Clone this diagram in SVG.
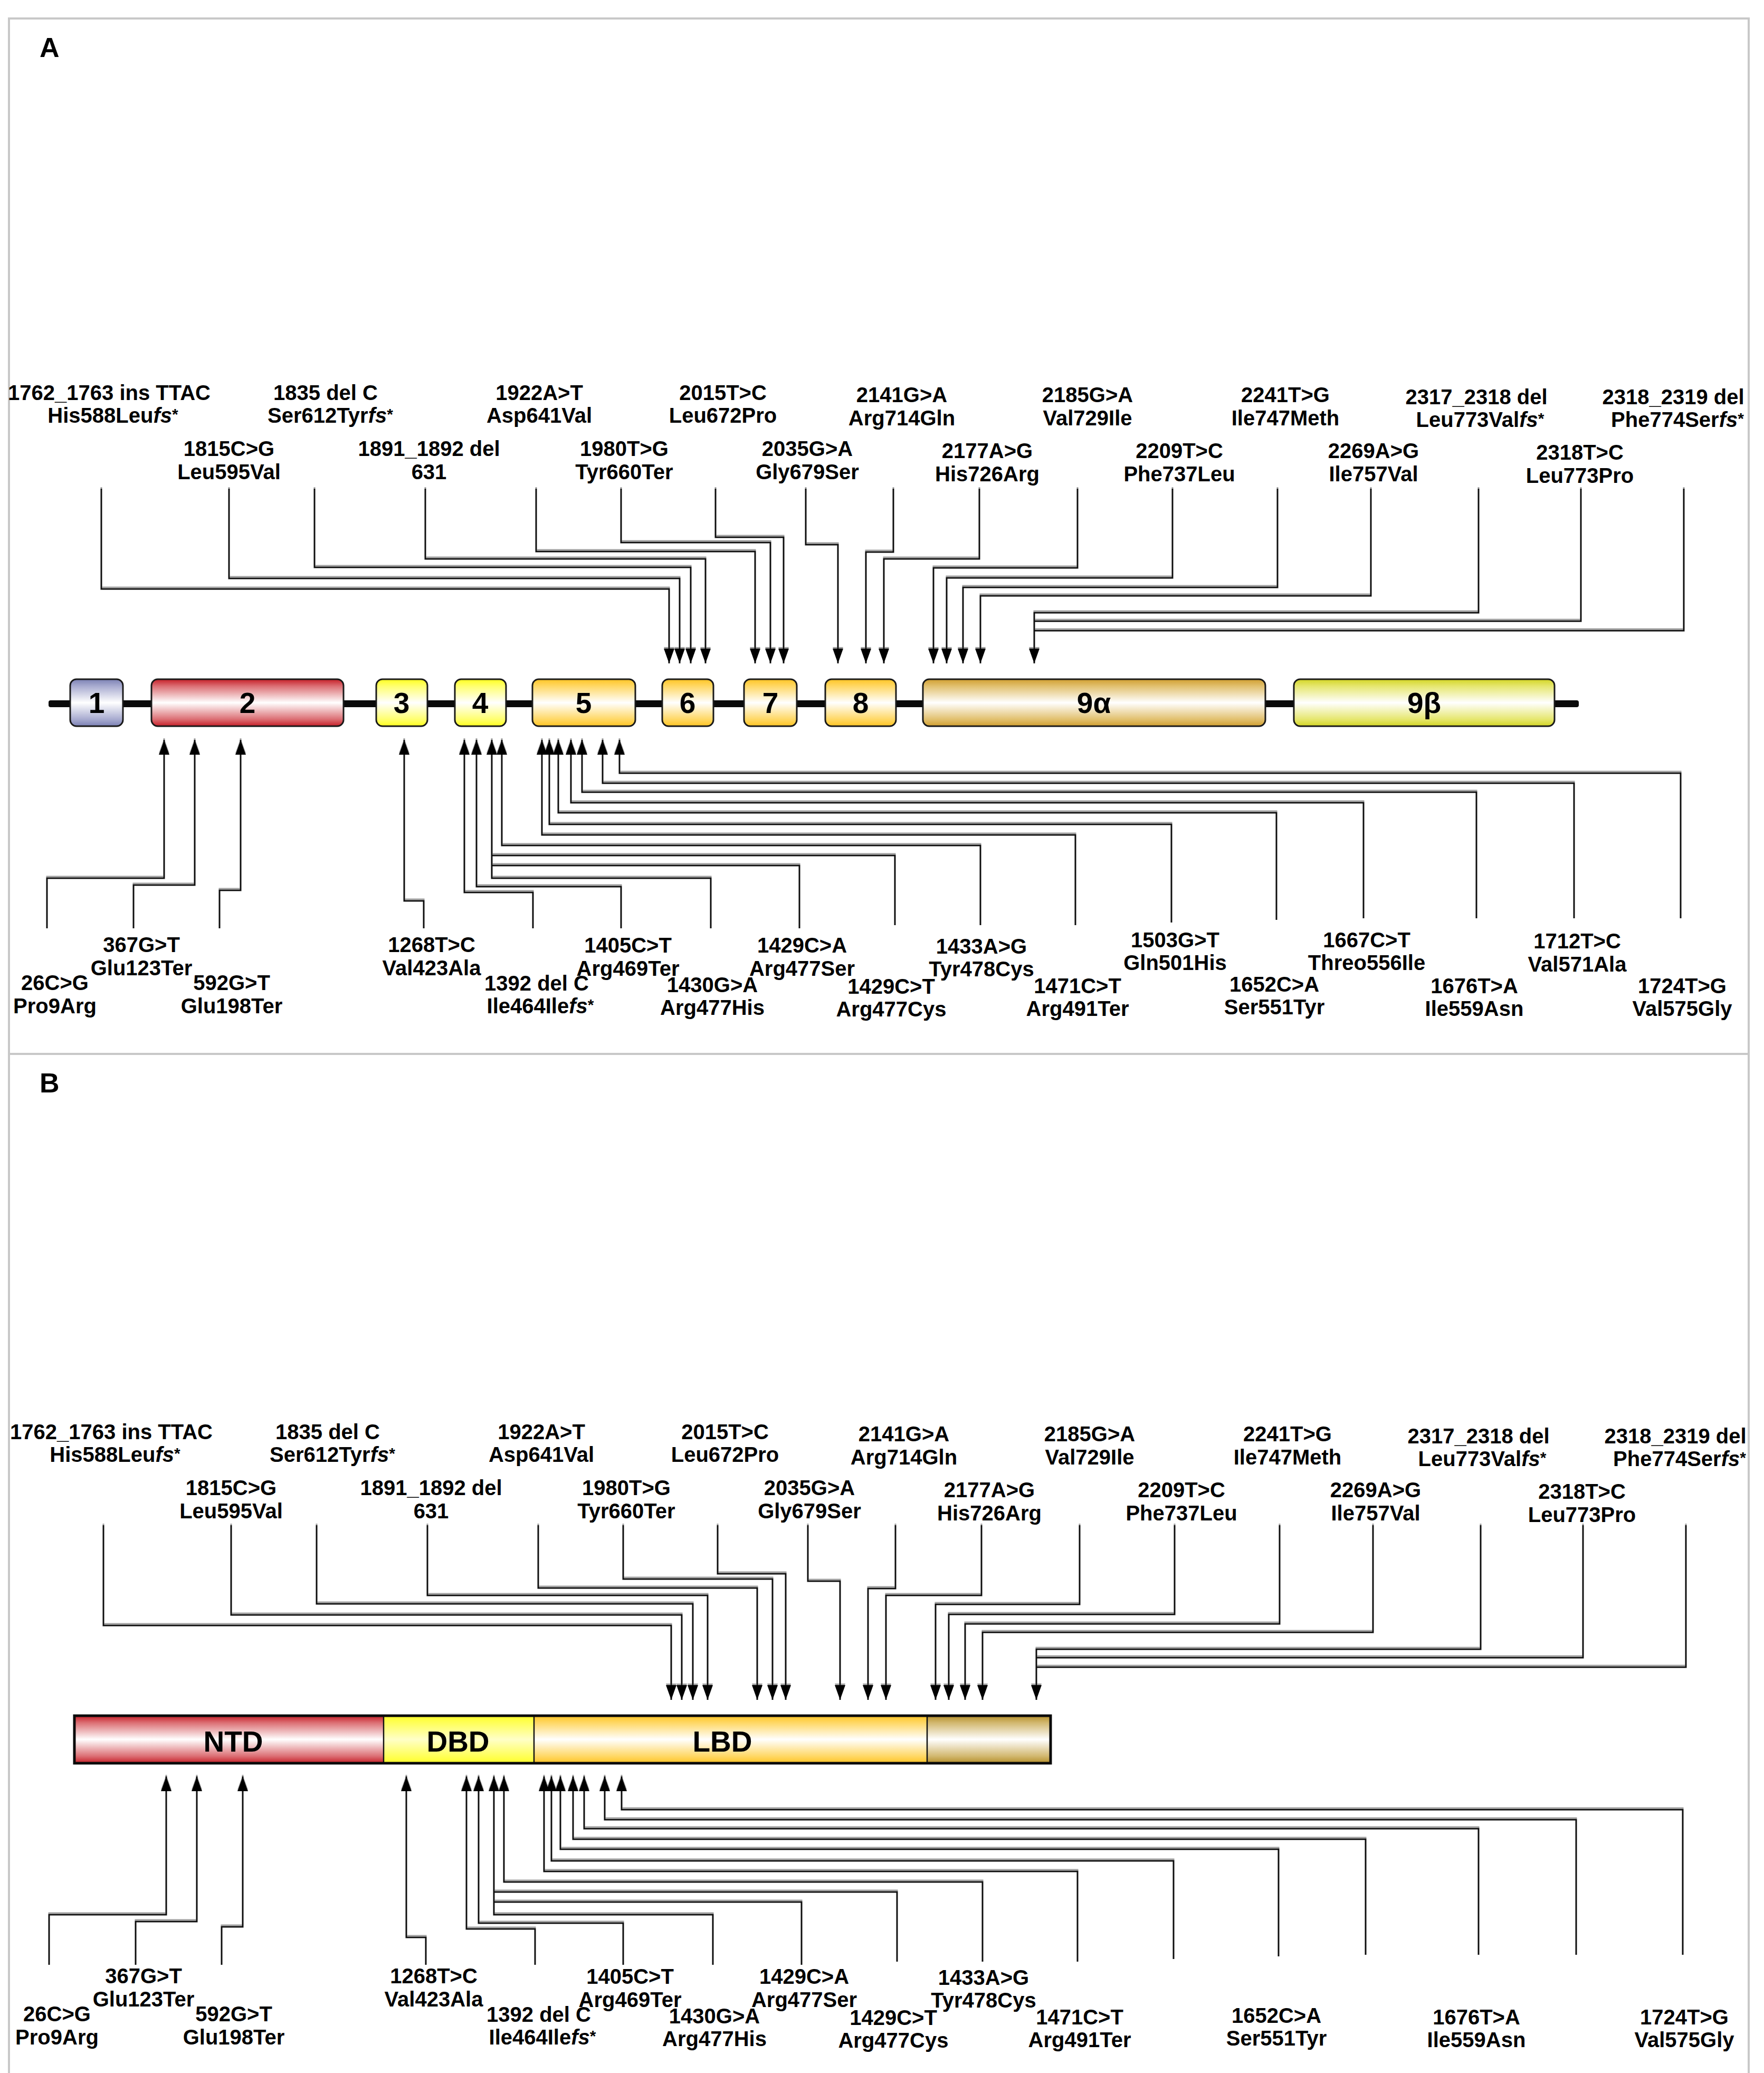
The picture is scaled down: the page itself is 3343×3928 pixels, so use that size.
<svg xmlns="http://www.w3.org/2000/svg" width="3343" height="3928" viewBox="0 0 3343 3928">
<style>
.lb{font-family:"Liberation Sans",Arial,sans-serif;font-size:40px;font-weight:bold;text-anchor:middle;fill:#000}
.ex{font-family:"Liberation Sans",Arial,sans-serif;font-size:55px;font-weight:bold;text-anchor:middle;fill:#000}
.pn{font-family:"Liberation Sans",Arial,sans-serif;font-size:52px;font-weight:bold;fill:#000}
.cn path{fill:none;stroke:#111;stroke-width:3}
.ar{marker-end:url(#ah)}
.box{stroke:#1a1a1a;stroke-width:3}
.fr{fill:none;stroke:#c8c8c8;stroke-width:4}
.it{font-style:italic}
.sup{font-size:30px}
</style>
<defs>
<marker id="ah" markerUnits="userSpaceOnUse" viewBox="0 0 28 20" markerWidth="28" markerHeight="20" refX="28" refY="10" orient="auto">
<path d="M0,0L28,10L0,20z" fill="#000"/>
</marker>
<filter id="sh" filterUnits="userSpaceOnUse" x="0" y="0" width="3343" height="3928">
<feOffset in="SourceAlpha" dx="0" dy="-3" result="o"/>
<feFlood flood-color="#a0a0a0"/>
<feComposite in2="o" operator="in" result="s"/>
<feMerge><feMergeNode in="s"/><feMergeNode in="SourceGraphic"/></feMerge>
</filter>
<linearGradient id="gBlue" x1="0" y1="0" x2="0" y2="1"><stop offset="0" stop-color="#7c81b4"/><stop offset="0.15" stop-color="#a9acd0"/><stop offset="0.5" stop-color="#ffffff"/><stop offset="0.85" stop-color="#a9acd0"/><stop offset="1" stop-color="#7c81b4"/></linearGradient>
<linearGradient id="gRed" x1="0" y1="0" x2="0" y2="1"><stop offset="0" stop-color="#c61f28"/><stop offset="0.15" stop-color="#dc7075"/><stop offset="0.5" stop-color="#ffffff"/><stop offset="0.85" stop-color="#dc7075"/><stop offset="1" stop-color="#c61f28"/></linearGradient>
<linearGradient id="gYel" x1="0" y1="0" x2="0" y2="1"><stop offset="0" stop-color="#ffff1e"/><stop offset="0.15" stop-color="#ffff70"/><stop offset="0.5" stop-color="#ffffff"/><stop offset="0.85" stop-color="#ffff70"/><stop offset="1" stop-color="#ffff1e"/></linearGradient>
<linearGradient id="gGold" x1="0" y1="0" x2="0" y2="1"><stop offset="0" stop-color="#ffc424"/><stop offset="0.15" stop-color="#ffd866"/><stop offset="0.5" stop-color="#ffffff"/><stop offset="0.85" stop-color="#ffd866"/><stop offset="1" stop-color="#ffc424"/></linearGradient>
<linearGradient id="gTan" x1="0" y1="0" x2="0" y2="1"><stop offset="0" stop-color="#d09e30"/><stop offset="0.15" stop-color="#e2c170"/><stop offset="0.5" stop-color="#ffffff"/><stop offset="0.85" stop-color="#e2c170"/><stop offset="1" stop-color="#d09e30"/></linearGradient>
<linearGradient id="gLime" x1="0" y1="0" x2="0" y2="1"><stop offset="0" stop-color="#d3d524"/><stop offset="0.15" stop-color="#e6e770"/><stop offset="0.5" stop-color="#ffffff"/><stop offset="0.85" stop-color="#e6e770"/><stop offset="1" stop-color="#d3d524"/></linearGradient>
<linearGradient id="gDbd" x1="0" y1="0" x2="0" y2="1"><stop offset="0" stop-color="#ffff28"/><stop offset="0.5" stop-color="#ffffc8"/><stop offset="1" stop-color="#ffff28"/></linearGradient>
<linearGradient id="gBrn" x1="0" y1="0" x2="0" y2="1"><stop offset="0" stop-color="#b58f2a"/><stop offset="0.15" stop-color="#d2b870"/><stop offset="0.5" stop-color="#ffffff"/><stop offset="0.85" stop-color="#d2b870"/><stop offset="1" stop-color="#b58f2a"/></linearGradient>
</defs>
<rect width="3343" height="3928" fill="#fff"/>
<g id="frames">
<rect class="fr" x="17" y="35" width="3297" height="1962"/>
<rect class="fr" x="17" y="1997" width="3297" height="1960"/>
<text class="pn" x="75" y="108">A</text>
<text class="pn" x="75" y="2070">B</text>
</g>

<g id="gene-A">
<rect x="92" y="1327" width="2900" height="13" rx="4" fill="#0a0a0a"/>
<g id="exon1"><rect class="box" x="133" y="1287" width="100" height="89" rx="12" fill="url(#gBlue)"/><text class="ex" x="183" y="1351">1</text></g>
<g id="exon2"><rect class="box" x="287" y="1287" width="364" height="89" rx="12" fill="url(#gRed)"/><text class="ex" x="469" y="1351">2</text></g>
<g id="exon3"><rect class="box" x="713" y="1287" width="97" height="89" rx="12" fill="url(#gYel)"/><text class="ex" x="761" y="1351">3</text></g>
<g id="exon4"><rect class="box" x="862" y="1287" width="97" height="89" rx="12" fill="url(#gYel)"/><text class="ex" x="910" y="1351">4</text></g>
<g id="exon5"><rect class="box" x="1009" y="1287" width="195" height="89" rx="12" fill="url(#gGold)"/><text class="ex" x="1106" y="1351">5</text></g>
<g id="exon6"><rect class="box" x="1255" y="1287" width="97" height="89" rx="12" fill="url(#gGold)"/><text class="ex" x="1303" y="1351">6</text></g>
<g id="exon7"><rect class="box" x="1410" y="1287" width="100" height="89" rx="12" fill="url(#gGold)"/><text class="ex" x="1460" y="1351">7</text></g>
<g id="exon8"><rect class="box" x="1564" y="1287" width="134" height="89" rx="12" fill="url(#gGold)"/><text class="ex" x="1631" y="1351">8</text></g>
<g id="exon9a"><rect class="box" x="1749" y="1287" width="649" height="89" rx="12" fill="url(#gTan)"/><text class="ex" x="2073" y="1351">9α</text></g>
<g id="exon9b"><rect class="box" x="2452" y="1287" width="494" height="89" rx="12" fill="url(#gLime)"/><text class="ex" x="2699" y="1351">9β</text></g>
</g>

<g id="connectors-A" class="cn" filter="url(#sh)">
<path class="ar" d="M192,926V1116H1268V1257"/>
<path class="ar" d="M434,926V1096H1288V1257"/>
<path class="ar" d="M596,926V1075H1309V1257"/>
<path class="ar" d="M806,926V1059H1337V1257"/>
<path class="ar" d="M1016,926V1045H1431V1257"/>
<path class="ar" d="M1177,926V1028H1460V1257"/>
<path class="ar" d="M1356,926V1018H1485V1257"/>
<path class="ar" d="M1527,926V1032H1588V1257"/>
<path class="ar" d="M1693,926V1046H1641V1257"/>
<path class="ar" d="M1856,926V1059H1675V1257"/>
<path class="ar" d="M2042,926V1076H1769V1257"/>
<path class="ar" d="M2222,926V1095H1794V1257"/>
<path class="ar" d="M2421,926V1113H1825V1257"/>
<path class="ar" d="M2598,926V1129H1858V1257"/>
<path class="ar" d="M2802,926V1161H1960V1257"/>
<path d="M2996,926V1177H1960"/>
<path d="M3191,926V1195H1960"/>
<path class="ar" d="M89,1759V1664H311V1402"/>
<path class="ar" d="M253,1759V1677H369V1402"/>
<path class="ar" d="M416,1759V1687H456V1402"/>
<path class="ar" d="M803,1759V1707H766V1402"/>
<path class="ar" d="M1010,1759V1691H880V1402"/>
<path class="ar" d="M1177,1759V1680H903V1402"/>
<path class="ar" d="M1347,1759V1664H932V1402"/>
<path d="M1515,1759V1640H932"/>
<path d="M1696,1753V1621H932"/>
<path class="ar" d="M1858,1753V1602H951V1402"/>
<path class="ar" d="M2038,1753V1582H1027V1402"/>
<path class="ar" d="M2220,1748V1562H1041V1402"/>
<path class="ar" d="M2419,1743V1540H1058V1402"/>
<path class="ar" d="M2584,1740V1521H1082V1402"/>
<path class="ar" d="M2798,1740V1501H1103V1402"/>
<path class="ar" d="M2983,1740V1484H1142V1402"/>
<path class="ar" d="M3185,1740V1465H1174V1402"/>
</g>

<g id="labels-top-A">
<g id="A-t1762"><text class="lb"><tspan x="207" y="758">1762_1763 ins TTAC</tspan><tspan x="214" y="801">His588Leu<tspan class="it">fs</tspan><tspan class="sup" dy="-6">*</tspan></tspan></text></g>
<g id="A-t1835"><text class="lb"><tspan x="617" y="758">1835 del C</tspan><tspan x="626" y="801">Ser612Tyr<tspan class="it">fs</tspan><tspan class="sup" dy="-6">*</tspan></tspan></text></g>
<g id="A-t1922"><text class="lb"><tspan x="1022" y="758">1922A&gt;T</tspan><tspan x="1022" y="801">Asp641Val</tspan></text></g>
<g id="A-t2015"><text class="lb"><tspan x="1370" y="758">2015T&gt;C</tspan><tspan x="1370" y="801">Leu672Pro</tspan></text></g>
<g id="A-t2141"><text class="lb"><tspan x="1709" y="762">2141G&gt;A</tspan><tspan x="1709" y="806">Arg714Gln</tspan></text></g>
<g id="A-t2185"><text class="lb"><tspan x="2061" y="762">2185G&gt;A</tspan><tspan x="2061" y="806">Val729Ile</tspan></text></g>
<g id="A-t2241"><text class="lb"><tspan x="2436" y="762">2241T&gt;G</tspan><tspan x="2436" y="806">Ile747Meth</tspan></text></g>
<g id="A-t2317"><text class="lb"><tspan x="2798" y="766">2317_2318 del</tspan><tspan x="2805" y="809">Leu773Val<tspan class="it">fs</tspan><tspan class="sup" dy="-6">*</tspan></tspan></text></g>
<g id="A-t2318d"><text class="lb"><tspan x="3171" y="766">2318_2319 del</tspan><tspan x="3179" y="809">Phe774Ser<tspan class="it">fs</tspan><tspan class="sup" dy="-6">*</tspan></tspan></text></g>
<g id="A-t1815"><text class="lb"><tspan x="434" y="864">1815C&gt;G</tspan><tspan x="434" y="908">Leu595Val</tspan></text></g>
<g id="A-t1891"><text class="lb"><tspan x="813" y="864">1891_1892 del</tspan><tspan x="813" y="908">631</tspan></text></g>
<g id="A-t1980"><text class="lb"><tspan x="1183" y="864">1980T&gt;G</tspan><tspan x="1183" y="908">Tyr660Ter</tspan></text></g>
<g id="A-t2035"><text class="lb"><tspan x="1530" y="864">2035G&gt;A</tspan><tspan x="1530" y="908">Gly679Ser</tspan></text></g>
<g id="A-t2177"><text class="lb"><tspan x="1871" y="868">2177A&gt;G</tspan><tspan x="1871" y="912">His726Arg</tspan></text></g>
<g id="A-t2209"><text class="lb"><tspan x="2235" y="868">2209T&gt;C</tspan><tspan x="2235" y="912">Phe737Leu</tspan></text></g>
<g id="A-t2269"><text class="lb"><tspan x="2603" y="868">2269A&gt;G</tspan><tspan x="2603" y="912">Ile757Val</tspan></text></g>
<g id="A-t2318"><text class="lb"><tspan x="2994" y="871">2318T&gt;C</tspan><tspan x="2994" y="915">Leu773Pro</tspan></text></g>
</g>

<g id="labels-bottom-A">
<g id="A-b367"><text class="lb"><tspan x="268" y="1804">367G&gt;T</tspan><tspan x="268" y="1848">Glu123Ter</tspan></text></g>
<g id="A-b1268"><text class="lb"><tspan x="818" y="1804">1268T&gt;C</tspan><tspan x="818" y="1848">Val423Ala</tspan></text></g>
<g id="A-b1405"><text class="lb"><tspan x="1190" y="1805">1405C&gt;T</tspan><tspan x="1190" y="1849">Arg469Ter</tspan></text></g>
<g id="A-b1429a"><text class="lb"><tspan x="1520" y="1805">1429C&gt;A</tspan><tspan x="1520" y="1849">Arg477Ser</tspan></text></g>
<g id="A-b1433"><text class="lb"><tspan x="1860" y="1807">1433A&gt;G</tspan><tspan x="1860" y="1850">Tyr478Cys</tspan></text></g>
<g id="A-b1503"><text class="lb"><tspan x="2227" y="1795">1503G&gt;T</tspan><tspan x="2227" y="1838">Gln501His</tspan></text></g>
<g id="A-b1667"><text class="lb"><tspan x="2590" y="1795">1667C&gt;T</tspan><tspan x="2590" y="1838">Threo556Ile</tspan></text></g>
<g id="A-b1712"><text class="lb"><tspan x="2989" y="1797">1712T&gt;C</tspan><tspan x="2989" y="1841">Val571Ala</tspan></text></g>
<g id="A-b26"><text class="lb"><tspan x="104" y="1876">26C&gt;G</tspan><tspan x="104" y="1920">Pro9Arg</tspan></text></g>
<g id="A-b592"><text class="lb"><tspan x="439" y="1876">592G&gt;T</tspan><tspan x="439" y="1920">Glu198Ter</tspan></text></g>
<g id="A-b1392"><text class="lb"><tspan x="1017" y="1877">1392 del C</tspan><tspan x="1024" y="1920">Ile464Ile<tspan class="it">fs</tspan><tspan class="sup" dy="-6">*</tspan></tspan></text></g>
<g id="A-b1430"><text class="lb"><tspan x="1350" y="1880">1430G&gt;A</tspan><tspan x="1350" y="1923">Arg477His</tspan></text></g>
<g id="A-b1429t"><text class="lb"><tspan x="1689" y="1883">1429C&gt;T</tspan><tspan x="1689" y="1926">Arg477Cys</tspan></text></g>
<g id="A-b1471"><text class="lb"><tspan x="2042" y="1882">1471C&gt;T</tspan><tspan x="2042" y="1925">Arg491Ter</tspan></text></g>
<g id="A-b1652"><text class="lb"><tspan x="2415" y="1879">1652C&gt;A</tspan><tspan x="2415" y="1922">Ser551Tyr</tspan></text></g>
<g id="A-b1676"><text class="lb"><tspan x="2794" y="1882">1676T&gt;A</tspan><tspan x="2794" y="1925">Ile559Asn</tspan></text></g>
<g id="A-b1724"><text class="lb"><tspan x="3188" y="1882">1724T&gt;G</tspan><tspan x="3188" y="1925">Val575Gly</tspan></text></g>
</g>

<g id="protein-B">
<g id="dom-NTD"><rect x="141" y="3251" width="586" height="90" fill="url(#gRed)"/><text class="ex" x="442" y="3319">NTD</text></g>
<g id="dom-DBD"><rect x="727" y="3251" width="285" height="90" fill="url(#gDbd)"/><text class="ex" x="868" y="3319">DBD</text></g>
<g id="dom-LBD"><rect x="1012" y="3251" width="745" height="90" fill="url(#gGold)"/><text class="ex" x="1369" y="3319">LBD</text></g>
<g id="dom-tail"><rect x="1757" y="3251" width="234" height="90" fill="url(#gBrn)"/></g>
<path d="M727,3251V3341M1012,3251V3341M1757,3251V3341" stroke="#111" stroke-width="2.5" fill="none"/>
<rect x="141" y="3251" width="1850" height="90" fill="none" stroke="#0a0a0a" stroke-width="5"/>
</g>

<g id="connectors-B" class="cn" filter="url(#sh)" transform="translate(4,1964)">
<path class="ar" d="M192,926V1116H1268V1257"/>
<path class="ar" d="M434,926V1096H1288V1257"/>
<path class="ar" d="M596,926V1075H1309V1257"/>
<path class="ar" d="M806,926V1059H1337V1257"/>
<path class="ar" d="M1016,926V1045H1431V1257"/>
<path class="ar" d="M1177,926V1028H1460V1257"/>
<path class="ar" d="M1356,926V1018H1485V1257"/>
<path class="ar" d="M1527,926V1032H1588V1257"/>
<path class="ar" d="M1693,926V1046H1641V1257"/>
<path class="ar" d="M1856,926V1059H1675V1257"/>
<path class="ar" d="M2042,926V1076H1769V1257"/>
<path class="ar" d="M2222,926V1095H1794V1257"/>
<path class="ar" d="M2421,926V1113H1825V1257"/>
<path class="ar" d="M2598,926V1129H1858V1257"/>
<path class="ar" d="M2802,926V1161H1960V1257"/>
<path d="M2996,926V1177H1960"/>
<path d="M3191,926V1195H1960"/>
<path class="ar" d="M89,1759V1664H311V1402"/>
<path class="ar" d="M253,1759V1677H369V1402"/>
<path class="ar" d="M416,1759V1687H456V1402"/>
<path class="ar" d="M803,1759V1707H766V1402"/>
<path class="ar" d="M1010,1759V1691H880V1402"/>
<path class="ar" d="M1177,1759V1680H903V1402"/>
<path class="ar" d="M1347,1759V1664H932V1402"/>
<path d="M1515,1759V1640H932"/>
<path d="M1696,1753V1621H932"/>
<path class="ar" d="M1858,1753V1602H951V1402"/>
<path class="ar" d="M2038,1753V1582H1027V1402"/>
<path class="ar" d="M2220,1748V1562H1041V1402"/>
<path class="ar" d="M2419,1743V1540H1058V1402"/>
<path class="ar" d="M2584,1740V1521H1082V1402"/>
<path class="ar" d="M2798,1740V1501H1103V1402"/>
<path class="ar" d="M2983,1740V1484H1142V1402"/>
<path class="ar" d="M3185,1740V1465H1174V1402"/>
</g>

<g id="labels-top-B" transform="translate(4,1969)">
<g id="B-t1762"><text class="lb"><tspan x="207" y="758">1762_1763 ins TTAC</tspan><tspan x="214" y="801">His588Leu<tspan class="it">fs</tspan><tspan class="sup" dy="-6">*</tspan></tspan></text></g>
<g id="B-t1835"><text class="lb"><tspan x="617" y="758">1835 del C</tspan><tspan x="626" y="801">Ser612Tyr<tspan class="it">fs</tspan><tspan class="sup" dy="-6">*</tspan></tspan></text></g>
<g id="B-t1922"><text class="lb"><tspan x="1022" y="758">1922A&gt;T</tspan><tspan x="1022" y="801">Asp641Val</tspan></text></g>
<g id="B-t2015"><text class="lb"><tspan x="1370" y="758">2015T&gt;C</tspan><tspan x="1370" y="801">Leu672Pro</tspan></text></g>
<g id="B-t2141"><text class="lb"><tspan x="1709" y="762">2141G&gt;A</tspan><tspan x="1709" y="806">Arg714Gln</tspan></text></g>
<g id="B-t2185"><text class="lb"><tspan x="2061" y="762">2185G&gt;A</tspan><tspan x="2061" y="806">Val729Ile</tspan></text></g>
<g id="B-t2241"><text class="lb"><tspan x="2436" y="762">2241T&gt;G</tspan><tspan x="2436" y="806">Ile747Meth</tspan></text></g>
<g id="B-t2317"><text class="lb"><tspan x="2798" y="766">2317_2318 del</tspan><tspan x="2805" y="809">Leu773Val<tspan class="it">fs</tspan><tspan class="sup" dy="-6">*</tspan></tspan></text></g>
<g id="B-t2318d"><text class="lb"><tspan x="3171" y="766">2318_2319 del</tspan><tspan x="3179" y="809">Phe774Ser<tspan class="it">fs</tspan><tspan class="sup" dy="-6">*</tspan></tspan></text></g>
<g id="B-t1815"><text class="lb"><tspan x="434" y="864">1815C&gt;G</tspan><tspan x="434" y="908">Leu595Val</tspan></text></g>
<g id="B-t1891"><text class="lb"><tspan x="813" y="864">1891_1892 del</tspan><tspan x="813" y="908">631</tspan></text></g>
<g id="B-t1980"><text class="lb"><tspan x="1183" y="864">1980T&gt;G</tspan><tspan x="1183" y="908">Tyr660Ter</tspan></text></g>
<g id="B-t2035"><text class="lb"><tspan x="1530" y="864">2035G&gt;A</tspan><tspan x="1530" y="908">Gly679Ser</tspan></text></g>
<g id="B-t2177"><text class="lb"><tspan x="1871" y="868">2177A&gt;G</tspan><tspan x="1871" y="912">His726Arg</tspan></text></g>
<g id="B-t2209"><text class="lb"><tspan x="2235" y="868">2209T&gt;C</tspan><tspan x="2235" y="912">Phe737Leu</tspan></text></g>
<g id="B-t2269"><text class="lb"><tspan x="2603" y="868">2269A&gt;G</tspan><tspan x="2603" y="912">Ile757Val</tspan></text></g>
<g id="B-t2318"><text class="lb"><tspan x="2994" y="871">2318T&gt;C</tspan><tspan x="2994" y="915">Leu773Pro</tspan></text></g>
</g>

<g id="labels-bottom-B" transform="translate(4,1954)">
<g id="B-b367"><text class="lb"><tspan x="268" y="1804">367G&gt;T</tspan><tspan x="268" y="1848">Glu123Ter</tspan></text></g>
<g id="B-b1268"><text class="lb"><tspan x="818" y="1804">1268T&gt;C</tspan><tspan x="818" y="1848">Val423Ala</tspan></text></g>
<g id="B-b1405"><text class="lb"><tspan x="1190" y="1805">1405C&gt;T</tspan><tspan x="1190" y="1849">Arg469Ter</tspan></text></g>
<g id="B-b1429a"><text class="lb"><tspan x="1520" y="1805">1429C&gt;A</tspan><tspan x="1520" y="1849">Arg477Ser</tspan></text></g>
<g id="B-b1433"><text class="lb"><tspan x="1860" y="1807">1433A&gt;G</tspan><tspan x="1860" y="1850">Tyr478Cys</tspan></text></g>
<g id="B-b26"><text class="lb"><tspan x="104" y="1876">26C&gt;G</tspan><tspan x="104" y="1920">Pro9Arg</tspan></text></g>
<g id="B-b592"><text class="lb"><tspan x="439" y="1876">592G&gt;T</tspan><tspan x="439" y="1920">Glu198Ter</tspan></text></g>
<g id="B-b1392"><text class="lb"><tspan x="1017" y="1877">1392 del C</tspan><tspan x="1024" y="1920">Ile464Ile<tspan class="it">fs</tspan><tspan class="sup" dy="-6">*</tspan></tspan></text></g>
<g id="B-b1430"><text class="lb"><tspan x="1350" y="1880">1430G&gt;A</tspan><tspan x="1350" y="1923">Arg477His</tspan></text></g>
<g id="B-b1429t"><text class="lb"><tspan x="1689" y="1883">1429C&gt;T</tspan><tspan x="1689" y="1926">Arg477Cys</tspan></text></g>
<g id="B-b1471"><text class="lb"><tspan x="2042" y="1882">1471C&gt;T</tspan><tspan x="2042" y="1925">Arg491Ter</tspan></text></g>
<g id="B-b1652"><text class="lb"><tspan x="2415" y="1879">1652C&gt;A</tspan><tspan x="2415" y="1922">Ser551Tyr</tspan></text></g>
<g id="B-b1676"><text class="lb"><tspan x="2794" y="1882">1676T&gt;A</tspan><tspan x="2794" y="1925">Ile559Asn</tspan></text></g>
<g id="B-b1724"><text class="lb"><tspan x="3188" y="1882">1724T&gt;G</tspan><tspan x="3188" y="1925">Val575Gly</tspan></text></g>
</g>
</svg>
